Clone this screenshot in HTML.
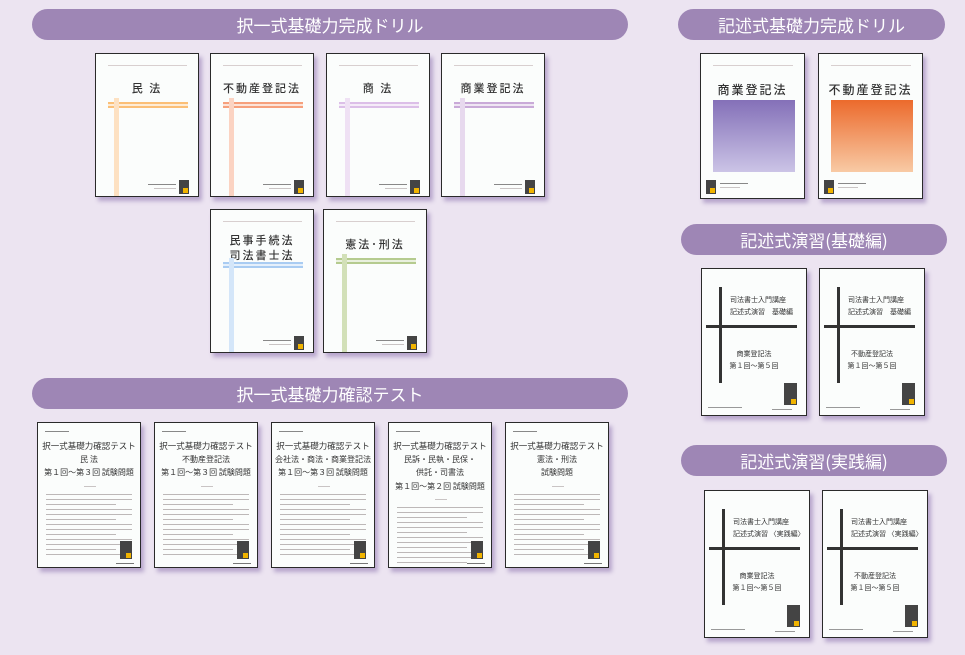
<!DOCTYPE html>
<html><head><meta charset="utf-8"><style>
*{margin:0;padding:0;box-sizing:border-box}
body{width:965px;height:655px;background:#ece4f1;position:relative;overflow:hidden;font-family:"Liberation Sans","Noto Sans CJK JP",sans-serif}
.pill{position:absolute;height:31px;border-radius:16px;background:#9e86b5;color:#fff;font-size:17px;line-height:31px;text-align:center;font-family:"Noto Sans CJK JP",sans-serif;font-weight:400}
.bk{position:absolute;background:#fbfdfc;border:1.5px solid #2a2a2a;box-shadow:3px 4px 4px rgba(120,90,160,.45);overflow:hidden}
.ab{position:absolute}
.sm{position:absolute;height:1px;background:#c9c4c4}
.t{position:absolute;left:0;right:0;text-align:center;color:#333;font-family:"Noto Sans CJK JP",sans-serif;white-space:nowrap}
.logo{position:absolute;width:10px;height:14px;background:#444}
.logo:after{content:"";position:absolute;right:1px;bottom:1px;width:5px;height:5px;background:#f1b400}
</style></head><body>

<div class="pill" style="left:32px;top:9px;width:596px">択一式基礎力完成ドリル</div>
<div class="pill" style="left:678px;top:9px;width:267px">記述式基礎力完成ドリル</div>
<div class="pill" style="left:32px;top:378px;width:596px">択一式基礎力確認テスト</div>
<div class="pill" style="left:681px;top:224px;width:266px">記述式演習(基礎編)</div>
<div class="pill" style="left:681px;top:445px;width:266px">記述式演習(実践編)</div>

<div id="drills"></div>
<script>
function drill(x,y,title,c,lite){
 var lines=title.split('|');
 var h='<div class="bk" style="left:'+x+'px;top:'+y+'px;width:104px;height:144px">';
 h+='<div class="sm" style="left:12px;top:11px;width:79px;background:#d8cfcf"></div>';
 var ty=lines.length>1?22:26;
 for(var i=0;i<lines.length;i++)h+='<div class="t" style="top:'+(ty+i*15)+'px;font-size:11px;font-weight:500;letter-spacing:2px">'+lines[i]+'</div>';
 var by=lines.length>1?52:48;
 h+='<div class="ab" style="left:12px;top:'+by+'px;width:80px;height:6px;background:'+c+'"></div>';
 h+='<div class="ab" style="left:12px;top:'+(by+2)+'px;width:80px;height:1.5px;background:#fff;opacity:.7"></div>';
 h+='<div class="ab" style="left:18px;top:'+(by-4)+'px;width:5px;height:150px;background:'+lite+'"></div>';
 h+='<div class="sm" style="left:52px;top:130px;width:28px;background:#888"></div>';
 h+='<div class="sm" style="left:58px;top:134px;width:22px"></div>';
 h+='<div class="logo" style="left:83px;top:126px"></div>';
 return h+'</div>';
}
function gdrill(x,y,title,g){
 var h='<div class="bk" style="left:'+x+'px;top:'+y+'px;width:105px;height:146px">';
 h+='<div class="sm" style="left:12px;top:11px;width:80px;background:#d8cfcf"></div>';
 h+='<div class="t" style="top:27px;font-size:12px;font-weight:500;letter-spacing:2px">'+title+'</div>';
 h+='<div class="ab" style="left:12px;top:46px;width:82px;height:72px;background:'+g+'"></div>';
 h+='<div class="logo" style="left:5px;top:126px"></div>';
 h+='<div class="sm" style="left:19px;top:129px;width:28px;background:#888"></div>';
 h+='<div class="sm" style="left:19px;top:133px;width:20px"></div>';
 return h+'</div>';
}
function test(x,y,lines){
 var h='<div class="bk" style="left:'+x+'px;top:'+y+'px;width:104px;height:146px">';
 h+='<div class="sm" style="left:7px;top:8px;width:24px;background:#888"></div>';
 for(var i=0;i<lines.length;i++)h+='<div class="t" style="top:'+(17+i*13.5)+'px;font-size:'+(i==0?8.5:8)+'px">'+lines[i]+'</div>';
 var s=22+lines.length*13.5;
 h+='<div class="sm" style="left:46px;top:'+s+'px;width:12px"></div>';
 for(var j=0;j<13;j++)h+='<div class="sm" style="left:8px;top:'+(s+8+j*5)+'px;width:'+(j%3==2?70:86)+'px;background:#bdb8b8"></div>';
 h+='<div class="logo" style="left:82px;top:118px;height:18px;width:12px"></div>';
 h+='<div class="sm" style="left:78px;top:140px;width:18px;background:#777"></div>';
 return h+'</div>';
}
function ens(x,y,l1,l2){
 var h='<div class="bk" style="left:'+x+'px;top:'+y+'px;width:106px;height:148px">';
 h+='<div class="ab" style="left:17px;top:18px;width:3px;height:96px;background:#333"></div>';
 h+='<div class="ab" style="left:4px;top:56px;width:91px;height:3px;background:#333"></div>';
 h+='<div class="ab" style="left:28px;top:26px;font-size:7px;color:#333;font-family:Noto Sans CJK JP,sans-serif">司法書士入門講座</div>';
 h+='<div class="ab" style="left:28px;top:38px;font-size:7px;color:#333;white-space:nowrap;font-family:Noto Sans CJK JP,sans-serif">'+l1+'</div>';
 h+='<div class="t" style="top:80px;font-size:7px">'+l2+'</div>';
 h+='<div class="t" style="top:92px;font-size:7px">第１回〜第５回</div>';
 h+='<div class="sm" style="left:6px;top:138px;width:34px;background:#999"></div>';
 h+='<div class="sm" style="left:70px;top:140px;width:20px;background:#999"></div>';
 h+='<div class="logo" style="left:82px;top:114px;height:22px;width:13px"></div>';
 return h+'</div>';
}
var o='';
o+=drill(95,53,'民 法','#fbbf77','#fde1c2');
o+=drill(210,53,'不動産登記法','#f6a07c','#fbd3c2');
o+=drill(326,53,'商 法','#dcbfe8','#efe1f4');
o+=drill(441,53,'商業登記法','#c9aad8','#e7d9ee');
o+=drill(210,209,'民事手続法|司法書士法','#a9ccf2','#d4e6f9');
o+=drill(323,209,'憲法･刑法','#b5cb8f','#d2e0b8');
o+=gdrill(700,53,'商業登記法','linear-gradient(#8470b8,#cbc4e6)');
o+=gdrill(818,53,'不動産登記法','linear-gradient(#ec6a2c,#f8caa5)');
o+=test(37,422,['択一式基礎力確認テスト','民 法','第１回〜第３回 試験問題']);
o+=test(154,422,['択一式基礎力確認テスト','不動産登記法','第１回〜第３回 試験問題']);
o+=test(271,422,['択一式基礎力確認テスト','会社法・商法・商業登記法','第１回〜第３回 試験問題']);
o+=test(388,422,['択一式基礎力確認テスト','民訴・民執・民保・','供託・司書法','第１回〜第２回 試験問題']);
o+=test(505,422,['択一式基礎力確認テスト','憲法・刑法','試験問題']);
o+=ens(701,268,'記述式演習　基礎編','商業登記法');
o+=ens(819,268,'記述式演習　基礎編','不動産登記法');
o+=ens(704,490,'記述式演習 〈実践編〉','商業登記法');
o+=ens(822,490,'記述式演習 〈実践編〉','不動産登記法');
document.getElementById('drills').innerHTML=o;
</script>
</body></html>
